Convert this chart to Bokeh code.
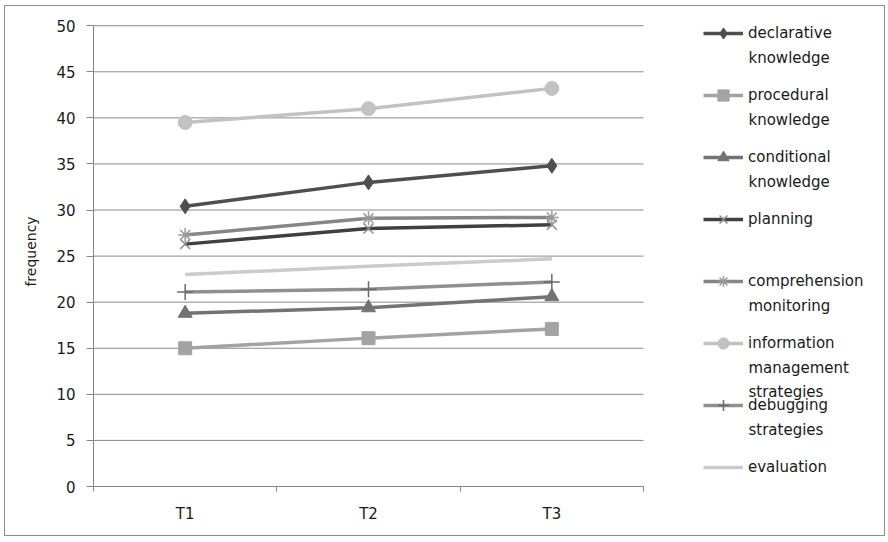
from bokeh.plotting import figure
from bokeh.models import Legend, LegendItem, FixedTicker, Range1d, Label
from bokeh.embed import file_html
from bokeh.resources import INLINE

categories = ["T1", "T2", "T3"]
declarative = [30.4, 33.0, 34.8]
procedural = [15.0, 16.1, 17.1]
conditional = [18.8, 19.4, 20.6]
planning = [26.3, 28.0, 28.4]
comprehension = [27.3, 29.1, 29.2]
information = [39.5, 41.0, 43.2]
debugging = [21.1, 21.4, 22.2]
evaluation = [23.0, 23.9, 24.7]
y_ticks = [0, 5, 10, 15, 20, 25, 30, 35, 40, 45, 50]

series = [
    (["declarative", "knowledge"], declarative, "#4f4f4f", "diamond", 15, "#4f4f4f"),
    (["procedural", "knowledge"], procedural, "#a3a3a3", "square", 13, "#a3a3a3"),
    (["conditional", "knowledge"], conditional, "#737373", "triangle", 14, "#737373"),
    (["planning"], planning, "#404040", "x", 14, "#8c8c8c"),
    (["comprehension", "monitoring"], comprehension, "#868686", "asterisk", 14, "#9a9a9a"),
    (["information", "management", "strategies"], information, "#c2c2c2", "circle", 14, "#c2c2c2"),
    (["debugging", "strategies"], debugging, "#909090", "cross", 16, "#6a6a6a"),
    (["evaluation"], evaluation, "#cbcbcb", None, 0, None),
]

xs = [i + 0.5 for i in range(len(categories))]
n_cat = len(categories)
y_max = y_ticks[-1]

W, H = 879, 529
BL, BR, BT, BB = 88, 10, 10, 49
FW, FH = W - BL - BR, H - BT - BB
PLOT_W = 550                       # pixel width of the category area
x_end = n_cat * FW / PLOT_W        # frame extends to the right to hold the legend
y_end = y_max + 1

p = figure(width=W, height=H, x_range=Range1d(0, x_end), y_range=Range1d(0, y_end),
           output_backend="svg", toolbar_location=None,
           min_border_left=BL, min_border_right=BR, min_border_top=BT, min_border_bottom=BB)
p.styles = {"box-shadow": "0 0 0 1px #8c8c8c", "margin-left": "5px", "margin-top": "6px"}
p.outline_line_color = None
p.background_fill_color = "white"
p.border_fill_color = "white"
p.xgrid.visible = False
p.ygrid.visible = False

# horizontal gridlines limited to the category area
p.segment(x0=[0] * len(y_ticks), x1=[n_cat] * len(y_ticks), y0=y_ticks, y1=y_ticks,
          line_color="#8a8a8a", line_width=1)

items = []
for lines, vals, color, marker, size, mcolor in series:
    rs = [p.line(xs, vals, line_color=color, line_width=3.5)]
    if marker is not None:
        rs.append(p.scatter(xs, vals, marker=marker, size=size, fill_color=mcolor,
                            line_color=mcolor, line_width=1.5 if marker in ("x", "asterisk", "cross") else 1))
    items.append(LegendItem(label=lines[0], renderers=rs))

p.yaxis.ticker = FixedTicker(ticks=y_ticks)
p.yaxis.bounds = (0, y_max)
p.xaxis.ticker = FixedTicker(ticks=xs, minor_ticks=list(range(n_cat + 1)))
p.xaxis.major_label_overrides = {x: c for x, c in zip(xs, categories)}
p.xaxis.bounds = (0, n_cat)

for ax in (p.xaxis[0], p.yaxis[0]):
    ax.axis_line_color = "#868686"
    ax.major_label_text_font = "DejaVu Sans"
    ax.major_label_text_font_size = "15px"
    ax.major_label_text_color = "#1a1a1a"
    ax.minor_tick_line_color = None

p.yaxis.major_tick_line_color = "#868686"
p.yaxis.major_tick_out = 7
p.yaxis.major_tick_in = 0
p.yaxis.major_label_standoff = 11
p.yaxis.axis_label = "frequency"
p.yaxis.axis_label_text_font = "DejaVu Sans"
p.yaxis.axis_label_text_font_size = "14px"
p.yaxis.axis_label_text_font_style = "normal"
p.yaxis.axis_label_text_color = "#1a1a1a"
p.yaxis.axis_label_standoff = 14

p.xaxis.major_tick_line_color = None
p.xaxis.minor_tick_line_color = "#868686"
p.xaxis.minor_tick_out = 5
p.xaxis.minor_tick_in = 0
p.xaxis.major_label_standoff = 12

# legend layout (screen pixels relative to the frame)
GW, GH, SP, STANDOFF = 40, 28, 34, 5
LEG_X = 610
FIRST_CY = 17         # centre of the first legend entry, pixels below frame top
LEG_TOP = FIRST_CY - GH / 2
LINE_GAP = 24
n = len(items)
leg_h = n * GH + (n - 1) * SP
LEG_FONT, LEG_SIZE = "DejaVu Sans", "15px"

legend = Legend(items=items, location=(LEG_X, FH - LEG_TOP - leg_h))
legend.border_line_color = None
legend.background_fill_alpha = 0
legend.glyph_width = GW
legend.glyph_height = GH
legend.label_height = 20
legend.label_standoff = STANDOFF
legend.padding = 0
legend.margin = 0
legend.spacing = SP
legend.label_text_font = LEG_FONT
legend.label_text_font_size = LEG_SIZE
legend.label_text_color = "#1a1a1a"
p.add_layout(legend)

for i, (lines, *_rest) in enumerate(series):
    cy = FIRST_CY + i * (GH + SP)
    for k, t in enumerate(lines[1:], start=1):
        p.add_layout(Label(x=LEG_X + GW + STANDOFF, y=FH - (cy + k * LINE_GAP),
                           x_units="screen", y_units="screen", text=t,
                           text_font=LEG_FONT, text_font_size=LEG_SIZE,
                           text_color="#1a1a1a", text_baseline="middle"))

open("out.html", "w").write(file_html(p, INLINE))
